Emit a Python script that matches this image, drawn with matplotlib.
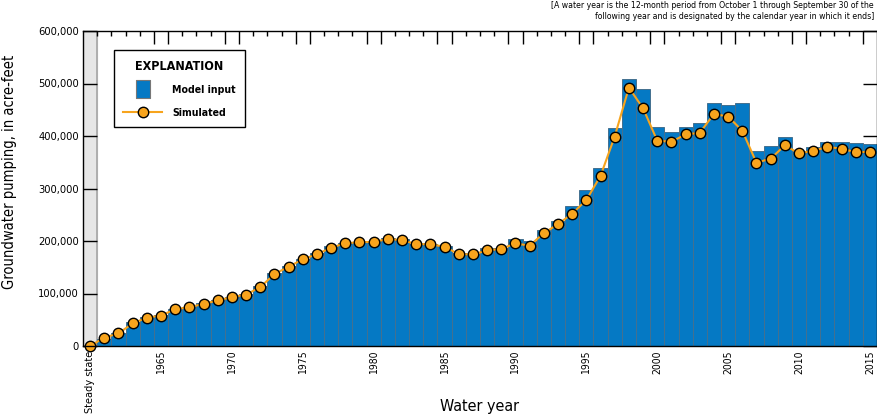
import numpy as np
import matplotlib.pyplot as plt
from matplotlib.lines import Line2D
from matplotlib.ticker import FuncFormatter

plt.rcParams['font.family'] = ['DejaVu Sans']
plt.rcParams['font.stretch'] = 'condensed'

# water years 1961-2015, steady state drawn at position 1960
years = list(range(1961, 2016))
steady_state_pos = 1960
steady_state_sim = 0

model_input = [14000, 25000, 45000, 55000, 60000, 71000, 75000, 81000, 88000, 94000,
               99000, 115000, 140000, 153000, 166000, 178000, 190000, 196000, 198000, 200000,
               205000, 203000, 195000, 195000, 191000, 177000, 176000, 187000, 187000, 203000,
               200000, 221000, 239000, 267000, 297000, 340000, 416000, 508000, 489000, 418000,
               407000, 418000, 424000, 462000, 460000, 462000, 371000, 381000, 399000, 372000,
               380000, 389000, 389000, 386000, 385000]

simulated = [16000, 24000, 43000, 54000, 58000, 70000, 74000, 80000, 87000, 93000,
             98000, 112000, 137000, 151000, 165000, 175000, 187000, 196000, 197500, 198500,
             203500, 202000, 194000, 194000, 189000, 175000, 174500, 182000, 185000, 195500,
             191000, 215000, 232000, 252000, 278000, 324000, 399000, 492000, 453000, 391000,
             389000, 403000, 406000, 442000, 437000, 410000, 349000, 357000, 382000, 367000,
             372000, 379000, 376000, 369000, 370000]

label_years = [1965, 1970, 1975, 1980, 1985, 1990, 1995, 2000, 2005, 2010, 2015]

blue = '#0579c4'
orange = '#f7a41d'

fig = plt.figure(figsize=(8.78, 4.17), dpi=100)
ax = fig.add_axes([83 / 878, 71 / 417, 794 / 878, 315 / 417])

# steady-state column
ax.axvspan(steady_state_pos - 0.5, steady_state_pos + 0.5, color='#e6e6e6', zorder=0)
ax.axvline(steady_state_pos + 0.5, color='#a8a8a8', lw=1.3, zorder=1)

ax.bar(years, model_input, width=1.0, color=blue, edgecolor='#44708f', linewidth=0.7, zorder=2)

sim_x = [steady_state_pos] + years
sim_y = [steady_state_sim] + simulated
ax.plot(sim_x, sim_y, color=orange, lw=1.5, marker='o', ms=7.5, mfc=orange,
        mec='black', mew=1.0, zorder=4, clip_on=False)

ax.set_xlim(steady_state_pos - 0.5, years[-1] + 0.5)
ax.set_ylim(0, 600000)

# ticks at the bin edges, long ones around every fifth year
edges = np.arange(steady_state_pos + 0.5, years[-1], 1.0)
long_edges = [e for e in edges if (e + 0.5) % 5 == 0 or (e - 0.5) % 5 == 0]
long_edges = [e for e in long_edges if e > steady_state_pos + 1]
short_edges = [e for e in edges if e not in long_edges]
ax.set_xticks(long_edges)
ax.set_xticks(short_edges, minor=True)
ax.tick_params(axis='x', which='major', direction='in', length=9, width=1.0,
               top=True, labelbottom=False)
ax.tick_params(axis='x', which='minor', direction='in', length=3.5, width=1.0, top=True)

ax.set_yticks(range(0, 600001, 100000))
ax.yaxis.set_major_formatter(FuncFormatter(lambda v, p: f'{int(v):,}'))
ax.tick_params(axis='y', direction='in', length=10, width=1.0, right=True,
               labelsize=8, pad=3)

for s in ax.spines.values():
    s.set_linewidth(1.0)
    s.set_zorder(5)

tr = ax.get_xaxis_transform()
ax.text(steady_state_pos, -0.015, 'Steady state', rotation=90, ha='center', va='top',
        fontsize=7.8, transform=tr)
for y in label_years:
    ax.text(y, -0.015, str(y), rotation=90, ha='center', va='top', fontsize=7.5, transform=tr)

fig.text(480 / 878, 1 - 407 / 417, 'Water year', ha='center', va='center', fontsize=11.5)
fig.text(10 / 878, 1 - 172 / 417, 'Groundwater pumping, in acre-feet', rotation=90,
         ha='center', va='center', fontsize=10.5)
fig.text(874 / 878, 1 - 1 / 417,
         '[A water year is the 12-month period from October 1 through September 30 of the\n'
         'following year and is designated by the calendar year in which it ends]',
         ha='right', va='top', multialignment='right', fontsize=6.2, linespacing=1.3)

rect = [(-0.39, -0.5), (0.39, -0.5), (0.39, 0.5), (-0.39, 0.5), (-0.39, -0.5)]
handles = [
    Line2D([], [], marker=rect, linestyle='none', markersize=13, markerfacecolor=blue,
           markeredgecolor='#777777', markeredgewidth=0.8),
    Line2D([], [], color=orange, lw=1.5, marker='o', ms=7.5, mfc=orange, mec='black', mew=1.0),
]
leg = ax.legend(handles, ['Model input', 'Simulated'], title='EXPLANATION',
                loc='upper left', bbox_to_anchor=((114 - 83) / 794, (346 - 50) / 315),
                borderaxespad=0, fancybox=False, edgecolor='black', framealpha=1,
                handlelength=3.6, handletextpad=1.0, borderpad=0.9, labelspacing=1.2,
                prop={'weight': 'bold', 'size': 7.6},
                title_fontproperties={'weight': 'bold', 'size': 9})
leg.get_frame().set_linewidth(1.0)
leg.set_zorder(6)

fig.savefig('out.png', dpi=100)
